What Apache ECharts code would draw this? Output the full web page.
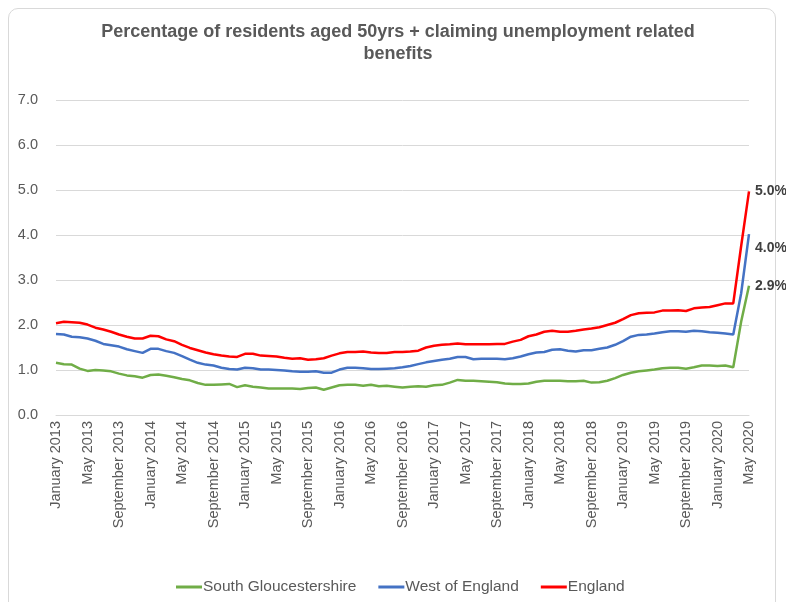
<!DOCTYPE html>
<html>
<head>
<meta charset="utf-8">
<script src="https://cdn.jsdelivr.net/npm/echarts@6/dist/echarts.min.js"></script>
<style>
html,body{margin:0;padding:0;background:#fff;}
#frame{position:absolute;left:8px;top:8px;width:768px;height:620px;border:1px solid #d9d9d9;border-radius:10px;box-sizing:border-box;}
#chart{position:absolute;left:0;top:0;width:786px;height:602px;}
</style>
</head>
<body>
<div id="frame"></div>
<div id="chart"></div>
<script>
const monthNames = ['January','February','March','April','May','June','July','August','September','October','November','December'];
const categories = [];
for (let y = 2013; y <= 2020; y++) {
  for (let m = 0; m < 12; m++) {
    if (y === 2020 && m > 4) break;
    categories.push(monthNames[m] + ' ' + y);
  }
}
const yTicks = [0, 1, 2, 3, 4, 5, 6, 7];

const southGlos = [1.16,1.13,1.12,1.03,0.98,1.00,0.99,0.97,0.92,0.88,0.86,0.83,0.89,0.90,0.87,0.84,0.80,0.77,0.71,0.67,0.67,0.68,0.69,0.62,
0.66,0.63,0.61,0.59,0.59,0.59,0.59,0.58,0.60,0.61,0.56,0.61,0.66,0.67,0.67,0.65,0.67,0.64,0.65,0.63,0.61,0.63,0.64,0.63,
0.66,0.67,0.72,0.78,0.76,0.76,0.75,0.74,0.73,0.70,0.69,0.69,0.70,0.74,0.76,0.76,0.76,0.75,0.75,0.76,0.72,0.73,0.76,0.82,
0.89,0.94,0.97,0.99,1.01,1.04,1.05,1.05,1.03,1.06,1.10,1.10,1.09,1.10,1.06,2.07,2.87];

const westEngland = [1.80,1.79,1.74,1.73,1.70,1.65,1.58,1.55,1.52,1.46,1.42,1.38,1.47,1.47,1.42,1.38,1.31,1.23,1.16,1.12,1.10,1.05,1.02,1.01,
1.05,1.04,1.01,1.01,1.00,0.99,0.97,0.96,0.96,0.97,0.94,0.94,1.01,1.05,1.05,1.04,1.02,1.02,1.03,1.04,1.06,1.09,1.13,1.17,
1.20,1.23,1.25,1.29,1.29,1.24,1.25,1.25,1.25,1.24,1.26,1.30,1.35,1.39,1.40,1.45,1.46,1.43,1.41,1.44,1.44,1.47,1.50,1.56,
1.64,1.74,1.78,1.79,1.81,1.84,1.86,1.86,1.85,1.87,1.86,1.84,1.83,1.81,1.79,2.70,4.02];

const england = [2.04,2.07,2.06,2.05,2.01,1.94,1.90,1.85,1.79,1.74,1.70,1.70,1.76,1.75,1.68,1.64,1.56,1.49,1.44,1.39,1.35,1.32,1.30,1.29,
1.36,1.36,1.32,1.31,1.30,1.27,1.25,1.26,1.23,1.24,1.26,1.32,1.37,1.40,1.40,1.41,1.39,1.38,1.38,1.40,1.40,1.41,1.43,1.50,
1.54,1.56,1.57,1.59,1.57,1.57,1.57,1.57,1.58,1.58,1.63,1.67,1.75,1.79,1.85,1.87,1.85,1.85,1.87,1.90,1.92,1.95,2.00,2.05,
2.13,2.22,2.26,2.27,2.28,2.32,2.32,2.33,2.31,2.37,2.39,2.40,2.44,2.48,2.48,3.75,4.97];

const txt = '#595959';
const font = '"Liberation Sans", Arial, sans-serif';

function mkSeries(name, data, color, labelOffset) {
  return {
    name: name,
    type: 'line',
    data: data,
    showSymbol: false,
    symbol: 'none',
    lineStyle: { color: color, width: 2.5 },
    itemStyle: { color: color },
    endLabel: {
      show: true, distance: 6, offset: labelOffset,
      formatter: p => p.value.toFixed(1) + '%',
      color: '#404040', fontWeight: 'bold', fontSize: 14, fontFamily: font
    },
    animation: false
  };
}

const chart = echarts.init(document.getElementById('chart'));
chart.setOption({
  animation: false,
  title: {
    text: 'Percentage of residents aged 50yrs + claiming unemployment related\nbenefits',
    left: 393, top: 16, textAlign: 'center',
    textStyle: { color: txt, fontSize: 18, fontWeight: 'bold', fontFamily: font, lineHeight: 22 }
  },
  grid: { left: 56, right: 37, top: 100, bottom: 187, containLabel: false },
  xAxis: {
    type: 'category',
    data: categories,
    boundaryGap: false,
    axisLine: { show: true, lineStyle: { color: '#d9d9d9' } },
    axisTick: { show: false },
    axisLabel: { interval: 3, rotate: 90, color: txt, fontSize: 14.5, fontFamily: font, margin: 6 }
  },
  yAxis: {
    type: 'value',
    min: yTicks[0], max: yTicks[yTicks.length - 1], interval: 1,
    axisLine: { show: false },
    axisTick: { show: false },
    splitLine: { lineStyle: { color: '#d9d9d9', width: 1 } },
    axisLabel: { color: txt, fontSize: 14.5, fontFamily: font, margin: 18, formatter: v => v.toFixed(1) }
  },
  legend: {
    bottom: 2, left: 171,
    itemWidth: 26, itemHeight: 3, itemGap: 22,
    icon: 'rect',
    textStyle: { color: txt, fontSize: 15.5, fontFamily: font, padding: [0, 0, 0, -4] },
    data: ['South Gloucestershire', 'West of England', 'England']
  },
  series: [
    mkSeries('South Gloucestershire', southGlos, '#70ad47', [0, 0]),
    mkSeries('West of England', westEngland, '#4472c4', [0, 14]),
    mkSeries('England', england, '#ff0000', [0, 0])
  ]
});
</script>
</body>
</html>
